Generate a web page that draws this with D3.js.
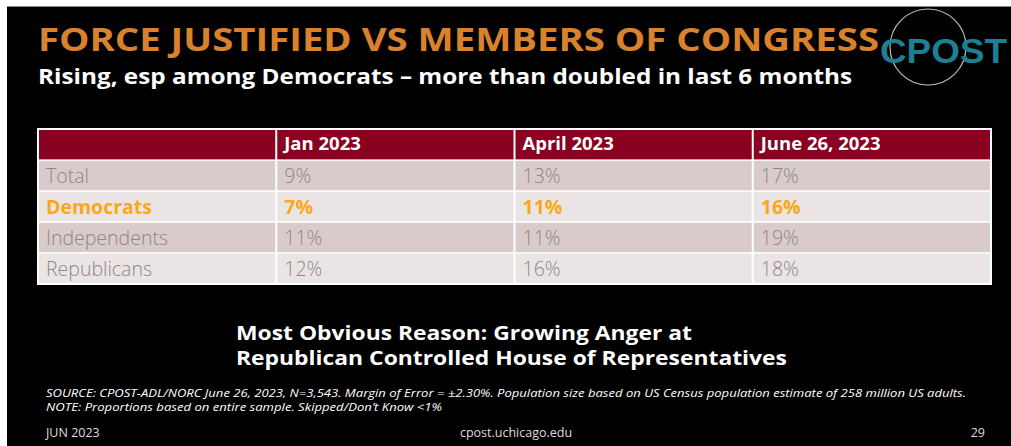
<!DOCTYPE html>
<html><head><meta charset="utf-8">
<script src="https://cdn.jsdelivr.net/npm/d3@7"></script>
<style>
html,body{margin:0;padding:0;background:#fff;}
svg{display:block;}
</style></head>
<body>
<script>
const title = "FORCE JUSTIFIED VS MEMBERS OF CONGRESS";
const subtitle = "Rising, esp among Democrats  \u2013 more than doubled in last 6 months";
const columns = ["Jan 2023", "April 2023", "June 26, 2023"];
const groups = ["Total", "Democrats", "Independents", "Republicans"];
const totalVals = [9, 13, 17];
const democratVals = [7, 11, 16];
const independentVals = [11, 11, 19];
const republicanVals = [12, 16, 18];
const rowValues = [totalVals, democratVals, independentVals, republicanVals];
const reasonLines = ["Most Obvious Reason: Growing Anger at", "Republican Controlled House of Representatives"];
const sourceLines = ["SOURCE: CPOST-ADL/NORC June 26, 2023, N=3,543. Margin of Error = \u00b12.30%. Population size based on US Census population estimate of 258 million US adults.",
  "NOTE: Proportions based on entire sample. Skipped/Don\u2019t Know <1%"];

const W = 1011, H = 446;
const svg = d3.select("body").append("svg").attr("width", W).attr("height", H);
svg.append("rect").attr("width", W).attr("height", H).attr("fill", "#fff");
svg.append("rect").attr("x", 7).attr("y", 6).attr("width", W - 7).attr("height", H - 6).attr("fill", "#000");
svg.append("line").attr("x1", 7).attr("x2", W).attr("y1", 6.5).attr("y2", 6.5).attr("stroke", "#888").attr("stroke-width", 1);

const font = "'Open Sans', 'Noto Sans', sans-serif";

// logo
svg.append("circle").attr("cx", 928).attr("cy", 47).attr("r", 38).attr("fill", "none").attr("stroke", "#bbb").attr("stroke-width", 1.2);
svg.append("text").attr("x", 880).attr("y", 63).attr("font-family", "'Liberation Sans', Arial, sans-serif").attr("font-size", 35)
  .attr("font-weight", 700)
  .attr("fill", "#1c7f93").attr("textLength", 127).attr("lengthAdjust", "spacingAndGlyphs").text("CPOST");

// title
svg.append("text").attr("x", 38).attr("y", 51).attr("font-family", font).attr("font-weight", 700).attr("font-size", 32)
  .attr("fill", "#d9822b").attr("textLength", 841).attr("lengthAdjust", "spacingAndGlyphs").text(title);
svg.append("text").attr("x", 38).attr("y", 84).attr("font-family", font).attr("font-weight", 700).attr("font-size", 22)
  .attr("fill", "#fff").attr("textLength", 814).attr("lengthAdjust", "spacingAndGlyphs").text(subtitle);

// table
const x = d3.scaleBand().domain(["label", ...columns]).range([38, 991]).paddingInner(0);
const y = d3.scaleBand().domain(["header", ...groups]).range([129, 283.5]).paddingInner(0);
const tbl = svg.append("g");
tbl.append("rect").attr("x", 37).attr("y", 128).attr("width", 955).attr("height", 157).attr("fill", "#fff");

const hdr = tbl.append("g");
hdr.selectAll("rect").data(["label", ...columns]).join("rect")
  .attr("x", d => x(d) + 1).attr("y", y("header") + 1).attr("width", x.bandwidth() - 2).attr("height", y.bandwidth() - 1.5)
  .attr("fill", "#8a0020");
hdr.selectAll("text").data(columns).join("text")
  .attr("x", d => x(d) + 8).attr("y", y("header") + 21).attr("font-family", font).attr("font-weight", 700)
  .attr("font-size", 18.5).attr("fill", "#fff").text(d => d);

const rowFill = ["#d9cbcb", "#ebe4e4", "#d9cbcb", "#ebe4e4"];
groups.forEach((g, i) => {
  const isDem = g === "Democrats";
  const color = isDem ? "#f9a81b" : "#8c8888";
  const weight = isDem ? 700 : 300;
  const row = tbl.append("g");
  row.selectAll("rect").data(["label", ...columns]).join("rect")
    .attr("x", d => x(d) + 1).attr("y", y(g) + 1).attr("width", x.bandwidth() - 2).attr("height", y.bandwidth() - 1.5)
    .attr("fill", rowFill[i]);
  row.append("text").attr("x", x("label") + 8).attr("y", y(g) + 23).attr("font-family", font).attr("font-weight", weight)
    .attr("font-size", 19.5).attr("fill", color).text(g);
  row.selectAll("text.v").data(rowValues[i]).join("text").attr("class", "v")
    .attr("x", (d, j) => x(columns[j]) + 8).attr("y", y(g) + 23).attr("font-family", font).attr("font-weight", weight)
    .attr("font-size", 19.5).attr("fill", color).text(d => d + "%");
});

// reason
svg.selectAll("text.reason").data(reasonLines).join("text").attr("class", "reason")
  .attr("x", 236).attr("y", (d, i) => 340 + i * 25).attr("font-family", font).attr("font-weight", 700)
  .attr("font-size", 19).attr("fill", "#fff")
  .attr("textLength", (d, i) => i === 0 ? 456 : 551).attr("lengthAdjust", "spacingAndGlyphs").text(d => d);

// source
svg.selectAll("text.src").data(sourceLines).join("text").attr("class", "src")
  .attr("x", 46).attr("y", (d, i) => 397 + i * 14).attr("font-family", font).attr("font-style", "italic")
  .attr("font-size", 10.5).attr("fill", "#fff")
  .attr("textLength", (d, i) => i === 0 ? 920 : 396).attr("lengthAdjust", "spacingAndGlyphs").text(d => d);

// footer
const foot = svg.append("g").attr("font-family", font).attr("font-size", 12.5).attr("fill", "#ddd");
foot.append("text").attr("x", 46).attr("y", 437).text("JUN 2023");
foot.append("text").attr("x", 516).attr("y", 437).attr("text-anchor", "middle").text("cpost.uchicago.edu");
foot.append("text").attr("x", 985).attr("y", 437).attr("text-anchor", "end").text("29");
</script>
</body></html>
